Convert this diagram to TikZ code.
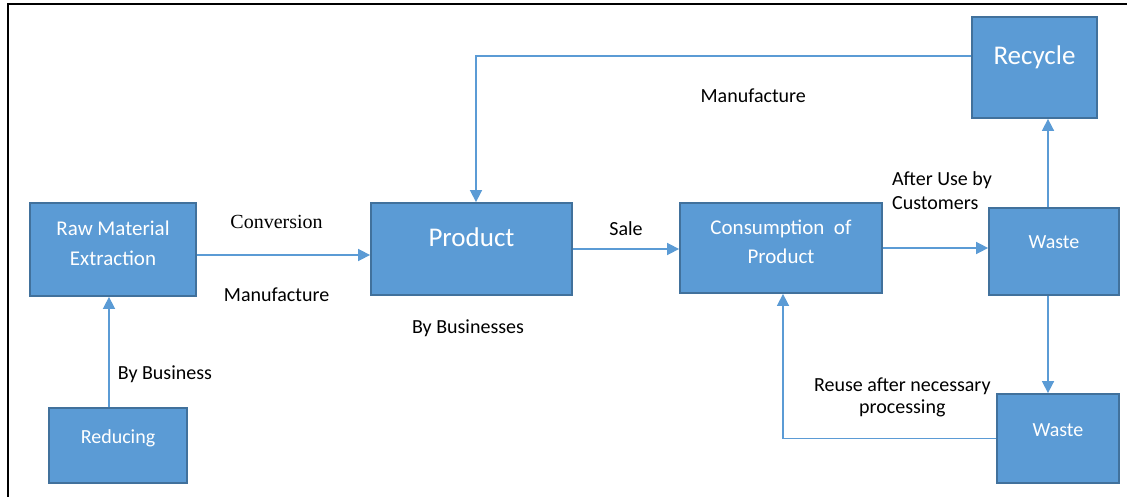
\documentclass[tikz,border=0pt]{standalone}
\usepackage{fontspec}
\setmainfont{Carlito}
\newfontfamily\timesfont{Liberation Serif}
\usetikzlibrary{arrows.meta,positioning}
\definecolor{boxblue}{HTML}{5B9BD5}
\definecolor{boxedge}{HTML}{41719C}
% deepens the last line so two-line box text sits a bit high
\newcommand{\lowpad}{\rule[-13pt]{0pt}{13pt}}

\begin{document}
\begin{tikzpicture}[x=1pt, y=-1pt,
    blk/.style={rectangle, draw=boxedge, line width=1.8pt, fill=boxblue, text=white, align=center, font=\fontsize{21}{29.5}\selectfont},
    big/.style={font=\fontsize{27}{32}\selectfont},
    small/.style={font=\fontsize{20}{24}\selectfont},
    oneline/.style={text height=15pt, text depth=20pt},
    flow/.style={draw=boxblue, line width=1.6pt, -{Triangle[length=12pt,width=12pt]}},
    lbl/.style={inner sep=0pt, text=black, font=\fontsize{20}{24}\selectfont}]
    \useasboundingbox (0,0) rectangle (1130,497);
    \draw[line width=1.5pt] (8,497) -- (8,4) -- (1127,4);

    % boxes
    \node[blk, minimum width=166pt, minimum height=93pt] (raw) at (113,249.5) {Raw Material\\Extraction\lowpad};
    \node[blk, small, oneline, minimum width=138pt, minimum height=75pt] (reduce) at (118,445.5) {Reducing};
    \node[blk, big, oneline, minimum width=201pt, minimum height=92pt] (product) at (471.5,249) {Product};
    \node[blk, minimum width=202pt, minimum height=90pt] (consume) at (781,248) {Consumption\ \ of\\Product\lowpad};
    \node[blk, small, oneline, minimum width=130pt, minimum height=87pt] (wasteA) at (1054,251.5) {Waste};
    \node[blk, small, oneline, minimum width=122pt, minimum height=89pt] (wasteB) at (1058,438.5) {Waste};
    \node[blk, big, oneline, minimum width=125pt, minimum height=101pt] (recycle) at (1034.5,67.5) {Recycle};
    \node[lbl, below=24pt of product, xshift=-3.5pt] (bybiz) {By Businesses};

    % flows
    \draw[flow] ([xshift=-9pt]reduce.north) -- node[lbl, anchor=west, pos=.3, xshift=8pt] (bybus) {By Business} ([xshift=-9pt]reduce.north |- raw.south);
    \draw[flow] ([yshift=-5.5pt]raw.east) -- node[lbl, pos=.46, yshift=33pt] (conv) {\timesfont Conversion}
        node[lbl, pos=.46, yshift=-40pt] (manu) {Manufacture} ([yshift=-5.5pt]raw.east -| product.west);
    \draw[flow] (product.east) -- node[lbl, yshift=20pt] (sale) {Sale} (product.east -| consume.west);
    \draw[flow] (consume.east) -- node[lbl, align=left, anchor=west, pos=.08, yshift=57pt] (aftuse) {After Use by\\Customers} (consume.east -| wasteA.west);
    \draw[flow] ([xshift=-6pt]wasteA.north) -- ([xshift=-6pt]wasteA.north |- recycle.south);
    \draw[flow] ([xshift=-6pt]wasteA.south) -- ([xshift=-6pt]wasteA.south |- wasteB.north);
    \draw[flow] ([yshift=11.5pt]recycle.west) -| node[lbl, pos=.22, yshift=-40pt] (manutop) {Manufacture} ([xshift=4.5pt]product.north);
    \draw[flow] (wasteB.west) -| node[lbl, align=center, pos=.22, yshift=41pt, font=\fontsize{20}{22}\selectfont] (reuse) {Reuse after necessary\\processing} ([xshift=2pt]consume.south);
\end{tikzpicture}
\end{document}
